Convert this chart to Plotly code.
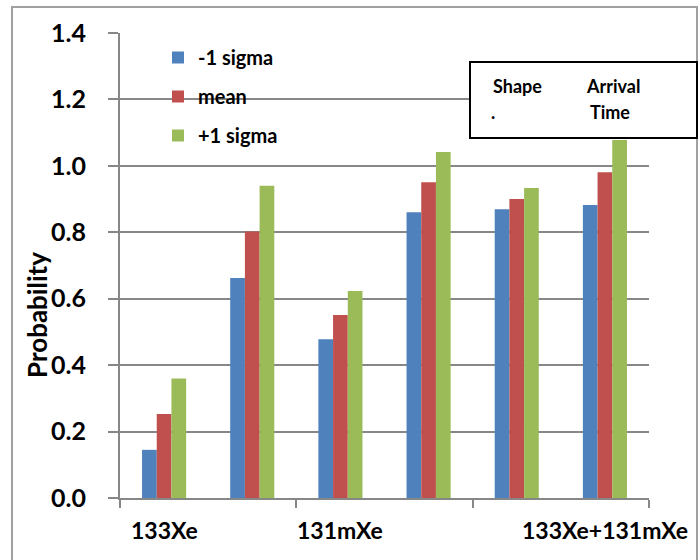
import plotly.graph_objects as go

# data
positions = [0.5, 1.5, 2.5, 3.5, 4.5, 5.5]
minus_sigma = [0.145, 0.662, 0.478, 0.860, 0.869, 0.882]
mean_vals = [0.253, 0.802, 0.551, 0.951, 0.900, 0.981]
plus_sigma = [0.360, 0.940, 0.623, 1.042, 0.933, 1.078]
series_names = ["-1 sigma", "mean", "+1 sigma"]
colors = ["#4F81BD", "#C0504D", "#9BBB59"]
group_label_pos = [0.5, 2.5, 5.5]
group_labels = ["133Xe", "131mXe", "133Xe+131mXe"]
y_ticks = [0.0, 0.2, 0.4, 0.6, 0.8, 1.0, 1.2, 1.4]

FONT = "Lato"
GRID = "#878787"

fig = go.Figure()
for name, vals, c in zip(series_names, [minus_sigma, mean_vals, plus_sigma], colors):
    fig.add_trace(go.Bar(x=positions, y=vals, name=name, marker_color=c,
                         marker_line_width=0, legendgroup=name))

W, H = 698, 560
L, R, T, B = 120, 49, 33, 62
pw, ph = W - L - R, H - T - B

def px(x):
    return (x - L) / pw

def py(y):
    return (H - B - y) / ph

fig.update_layout(
    width=W, height=H,
    margin=dict(l=L, r=R, t=T, b=B),
    paper_bgcolor="white", plot_bgcolor="white",
    barmode="group", bargap=0.5, bargroupgap=0,
    font=dict(family=FONT, color="black"),
    legend=dict(x=px(158), y=py(38), xanchor="left", yanchor="top",
                bgcolor="rgba(0,0,0,0)", font=dict(size=20, family=FONT, weight="bold"),
                tracegroupgap=10, itemwidth=30),
    showlegend=True,
)

fig.update_xaxes(range=[0, 6], tickvals=[0, 2, 4, 6], showticklabels=False,
                 ticks="outside", ticklen=8, tickwidth=2, tickcolor=GRID,
                 showline=True, linecolor=GRID, linewidth=2, showgrid=False,
                 zeroline=False)
fig.update_yaxes(range=[0, 1.4], tickvals=y_ticks, tickformat=".1f",
                 ticks="outside", ticklen=10, tickwidth=2, tickcolor=GRID,
                 showline=True, linecolor=GRID, linewidth=2,
                 showgrid=True, gridcolor=GRID, gridwidth=2, zeroline=False,
                 tickfont=dict(size=25, family=FONT, weight="bold"),
                 ticklabelstandoff=17)

for xv, lab in zip(group_label_pos, group_labels):
    fig.add_annotation(x=xv, y=py(530), xref="x", yref="paper", text=lab,
                       xanchor="center", yanchor="middle",
                       showarrow=False, font=dict(size=23, family=FONT, weight="bold"))

fig.add_annotation(x=px(37), y=py(315), xref="paper", yref="paper", text="Probability",
                   xanchor="center", yanchor="middle",
                   textangle=-90, showarrow=False,
                   font=dict(size=26, family=FONT, weight="bold"))

# outer border
fig.add_shape(type="rect", xref="paper", yref="paper",
              x0=px(12), x1=px(697), y0=py(7), y1=py(570),
              line=dict(color="#A0A0A0", width=2), layer="below")

# text box
fig.add_shape(type="rect", xref="paper", yref="paper",
              x0=px(470), x1=px(697), y0=py(62), y1=py(138),
              line=dict(color="black", width=2), fillcolor="white", layer="above")
box_texts = [("Shape", 517, 86), (".", 493, 112), ("Arrival", 613, 86), ("Time", 610, 112)]
for t, xx, yy in box_texts:
    fig.add_annotation(x=px(xx), y=py(yy), xref="paper", yref="paper", text=t,
                       xanchor="center", yanchor="middle",
                       showarrow=False, font=dict(size=18, family=FONT, weight="bold"))

fig.write_html("out.html", config={"displayModeBar": False},
               post_script="document.body.style.margin='0';")
